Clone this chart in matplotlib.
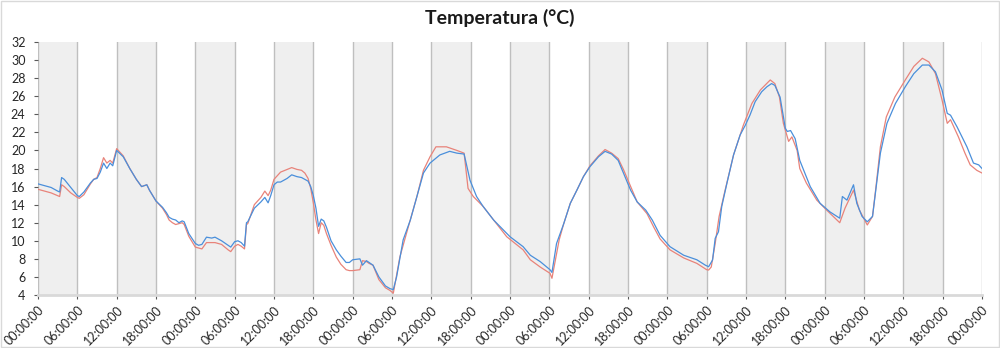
import matplotlib.pyplot as plt
from matplotlib.patches import Rectangle

plt.rcParams['font.family'] = ['Lato', 'DejaVu Sans']

# blue sensor: hours since start / temperature
blue_hours = [0, 1, 2, 3, 3.3, 3.6, 4, 5, 6, 6.3, 7, 8, 8.5, 9, 9.5, 10, 10.5, 11, 11.4, 12,
              13, 14, 14.5, 15, 15.8, 16.6, 17, 18, 19, 19.6, 20, 20.5, 21, 21.5, 22, 22.3,
              23, 24, 24.5, 25, 25.7, 26.5, 27, 28, 29, 29.4, 30, 30.5, 31, 31.5, 31.8, 32,
              33, 34, 34.6, 35.1, 35.5, 36, 36.5, 37, 38, 38.7, 39.5, 40.2, 40.7, 41.2, 41.6,
              42, 42.4, 42.8, 43.2, 43.6, 44, 44.7, 45.5, 46.2, 47, 47.5,
              48, 49.1, 49.5, 50.1, 50.5, 51.1, 52, 53, 53.7, 54.2, 54.7, 55.7, 56.8, 57.8,
              58.8, 59.8, 61.3, 62.8, 63.9, 65.0, 65.9, 66.9, 67.9, 69.5, 71.0, 72.0, 74.0,
              75.1, 76.6, 77.6, 78.1, 78.4, 79.1, 80.2, 81.2, 82.2, 83.2, 84.2, 85.5, 86.5,
              87.5, 88.5, 89.3, 90.4, 91.4, 92.7, 93.7, 94.9, 96.4, 98.5, 100.5, 101.8, 102.3,
              102.9, 103.3, 103.8, 104.3, 105.1, 106.1, 107.1, 107.9, 108.6, 109.4, 110.4,
              111.2, 111.9, 112.4, 113.2, 114.0, 114.3, 114.8, 115.5, 116.2, 116.8, 117.8,
              119.3, 120.8, 122.3, 122.7, 123.4, 124.4, 124.9, 125.7, 126.5, 127.3, 127.8,
              128.5, 129.5, 130.8, 132.3, 133.6, 134.9, 135.9, 136.9, 137.9, 138.7, 139.2,
              140.2, 141.7, 142.7, 143.5, 144]
blue = [16.3, 16.1, 15.9, 15.5, 15.4, 17.0, 16.8, 15.9, 15.0, 14.9, 15.4, 16.4, 16.8, 16.9,
        17.6, 18.6, 18.0, 18.6, 18.3, 20.0, 19.3, 18.0, 17.4, 16.8, 16.0, 16.2, 15.6, 14.4,
        13.7, 13.1, 12.6, 12.4, 12.3, 12.0, 12.2, 12.1, 10.8, 9.7, 9.5, 9.6, 10.4, 10.3,
        10.4, 10.0, 9.5, 9.3, 9.9, 10.0, 9.8, 9.4, 12.0, 12.1, 13.6, 14.3, 14.8, 14.2, 15.0,
        16.2, 16.5, 16.5, 16.9, 17.3, 17.1, 17.0, 16.8, 16.6, 16.0, 15.0, 13.6, 11.6, 12.4,
        12.2, 11.5, 10.0, 9.0, 8.3, 7.6, 7.6,
        7.9, 8.0, 7.3, 7.8, 7.6, 7.3, 6.0, 5.0, 4.7, 4.6, 6.0, 10.1, 12.3, 14.9, 17.5, 18.6,
        19.5, 19.9, 19.7, 19.6, 16.7, 14.9, 13.8, 12.3, 11.2, 10.45, 9.35, 8.4, 7.7, 7.1,
        6.8, 6.5, 9.7, 11.9, 14.15, 15.6, 17.1, 18.2, 19.3, 19.9, 19.6, 18.9, 17.5, 15.6,
        14.3, 13.4, 12.3, 10.6, 9.35, 8.4, 7.9, 7.3, 7.13, 7.87, 10.27, 11.0, 13.8, 16.4,
        19.5, 21.7, 22.8, 23.9, 25.4, 26.5, 27.05, 27.4, 27.2, 25.9, 22.45, 22.1, 22.2,
        21.3, 18.9, 17.8, 16.0, 14.15, 13.2, 12.5, 14.9, 14.5, 16.2, 14.15, 12.7, 12.1,
        12.7, 15.6, 19.7, 23.0, 25.2, 27.05, 28.5, 29.45, 29.45, 28.7, 26.7, 24.1, 23.9,
        22.6, 20.4, 18.6, 18.4, 18.0]

# red sensor
red_hours = [0, 1, 2, 3, 3.3, 3.6, 4, 5, 6, 6.3, 7, 8, 8.5, 9, 9.5, 10, 10.5, 11, 11.4, 12,
             13, 14, 14.5, 15, 15.8, 16.6, 17, 18, 19, 19.6, 20, 20.5, 21, 21.5, 22, 22.3,
             23, 24, 24.5, 25, 25.7, 26.5, 27, 28, 29, 29.4, 30, 30.5, 31, 31.5, 31.8, 32,
             33, 34, 34.6, 35.1, 35.5, 36, 36.5, 37, 38, 38.7, 39.5, 40.2, 40.7, 41.2, 41.6,
             42, 42.4, 42.8, 43.2, 43.6, 44, 44.7, 45.5, 46.2, 47, 47.5,
             48, 49.1, 49.5, 50.1, 50.5, 51.1, 52, 53, 53.7, 54.2, 55.2, 56.2, 57.8, 58.8,
             59.8, 60.7, 62.3, 63.9, 65.0, 65.6, 66.4, 67.9, 69.5, 71.5, 74.0, 75.1, 76.6,
             78.1, 78.4, 79.5, 80.2, 81.2, 82.2, 83.2, 84.2, 85.5, 86.5, 87.5, 88.5, 89.3,
             90.4, 91.4, 92.9, 93.9, 94.9, 96.4, 98.5, 100.5, 102.0, 102.3, 102.7, 103.3,
             103.9, 104.7, 106.1, 107.6, 108.9, 110.2, 111.7, 112.4, 113.1, 113.7, 114.5,
             115.0, 115.8, 116.2, 117.2, 118.8, 120.3, 122.3, 123.1, 124.4, 125.3, 126.5,
             127.3, 127.8, 128.5, 129.4, 130.7, 132.3, 133.6, 134.9, 135.9, 136.9, 137.9,
             138.7, 139.2, 140.4, 141.4, 142.2, 143.2, 144]
red = [15.7, 15.5, 15.3, 15.0, 14.9, 16.2, 16.0, 15.3, 14.8, 14.7, 15.1, 16.3, 16.8, 17.0,
       18.0, 19.2, 18.6, 18.9, 18.6, 20.2, 19.4, 18.0, 17.4, 16.8, 16.0, 16.2, 15.6, 14.4,
       13.6, 12.9, 12.3, 12.0, 11.8, 11.9, 12.0, 11.8, 10.5, 9.3, 9.2, 9.1, 9.8, 9.8, 9.8,
       9.6, 9.0, 8.8, 9.4, 9.6, 9.4, 9.1, 11.8, 11.9, 14.0, 14.8, 15.5, 15.0, 15.6, 16.8,
       17.2, 17.6, 17.9, 18.1, 17.9, 17.8, 17.5, 16.9, 15.8, 14.2, 12.3, 10.8, 12.0, 11.7,
       10.8, 9.5, 8.2, 7.4, 6.8, 6.7,
       6.7, 6.8, 7.8, 7.7, 7.5, 7.3, 5.7, 4.8, 4.5, 4.2, 8.2, 10.8, 14.9, 17.8, 19.3, 20.4,
       20.4, 20.0, 19.7, 15.8, 14.9, 13.8, 12.3, 10.45, 9.0, 7.9, 7.1, 6.4, 5.85, 10.1,
       11.9, 14.15, 15.6, 17.1, 18.3, 19.4, 20.1, 19.7, 19.1, 17.9, 16.0, 14.3, 13.0, 11.55,
       10.2, 9.0, 8.1, 7.5, 6.8, 6.76, 7.1, 9.7, 12.7, 15.25, 19.5, 22.8, 25.2, 26.7, 27.8,
       27.4, 25.9, 23.0, 21.0, 21.5, 20.0, 18.0, 16.4, 14.5, 13.4, 12.0, 13.6, 15.6, 13.4,
       11.75, 12.7, 15.8, 20.4, 23.7, 25.9, 27.8, 29.3, 30.2, 29.8, 28.5, 25.6, 23.0, 23.4,
       21.5, 19.7, 18.4, 17.8, 17.5]

tick_hours = list(range(0, 145, 6))
tick_labels = ['%02d:00:00' % (h % 24) for h in tick_hours]

fig = plt.figure(figsize=(10, 3.48), dpi=100)
ax = fig.add_axes([0.038, 0.1523, 0.944, 0.727])

# shaded bands 00-06 and 12-18
for start in range(0, 144, 12):
    ax.axvspan(start, start + 6, color='#efefef', lw=0, zorder=0)

for h in tick_hours:
    ax.axvline(h, color='#bfbfbf', lw=1, zorder=1)

ax.plot(red_hours, red, color='#e8837a', lw=0.9, zorder=3)
ax.plot(blue_hours, blue, color='#4a8fdb', lw=0.9, zorder=4)

ax.set_xlim(0, 144)
ax.set_ylim(4, 32)
ax.set_yticks(range(4, 33, 2))
ax.set_xticks(tick_hours)
ax.set_xticklabels(tick_labels, rotation=45, ha='right', rotation_mode='anchor')
ax.tick_params(axis='both', labelsize=9, colors='#595959', length=3, width=0.8)
ax.tick_params(axis='y', labelcolor='#262626', pad=6)
ax.tick_params(axis='x', labelcolor='#262626', pad=3)

for side in ['top', 'right', 'left']:
    ax.spines[side].set_visible(False)
ax.spines['bottom'].set_color('#d9d9d9')
ax.spines['bottom'].set_linewidth(2)

fig.suptitle('Temperatura (°C)', x=0.5, y=0.975, fontsize=14, fontweight='bold', color='#1a1a1a')

fig.patches.append(Rectangle((0.001, 0.002), 0.998, 0.996, transform=fig.transFigure,
                             fill=False, edgecolor='#d9d9d9', lw=1))

fig.savefig('out.png', dpi=100)
